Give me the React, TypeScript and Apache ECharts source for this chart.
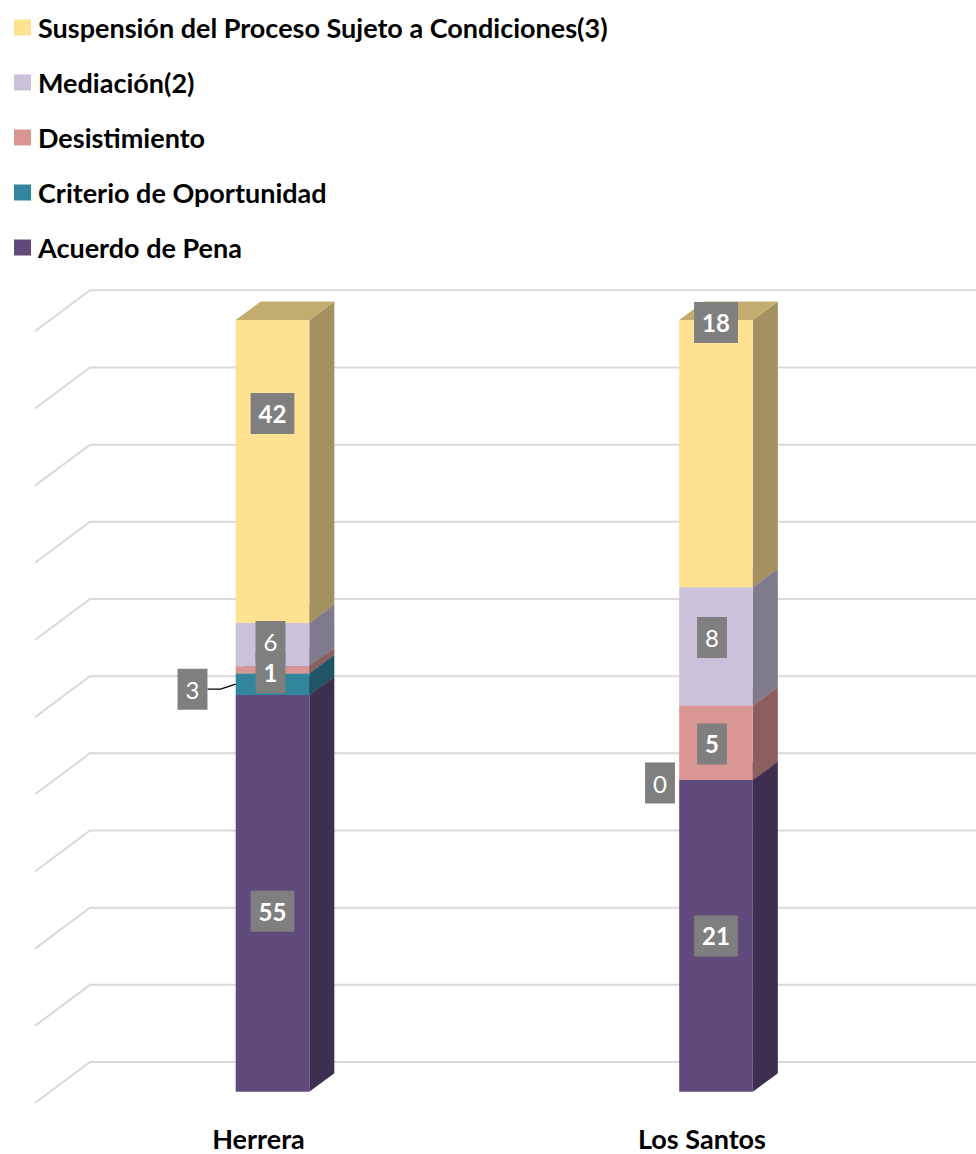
import React, { useEffect, useRef } from "react";
import * as echarts from "echarts";

const categories = ["Herrera", "Los Santos"];
const seriesNames = [
  "Acuerdo de Pena",
  "Criterio de Oportunidad",
  "Desistimiento",
  "Mediación(2)",
  "Suspensión del Proceso Sujeto a Condiciones(3)",
];
const acuerdoDePena = [55, 21];
const criterioDeOportunidad = [3, 0];
const desistimiento = [1, 5];
const mediacion = [6, 8];
const suspension = [42, 18];
const percentTicks = [0, 10, 20, 30, 40, 50, 60, 70, 80, 90, 100];

const seriesValues = [acuerdoDePena, criterioDeOportunidad, desistimiento, mediacion, suspension];

// styles
const FONT = "Lato";
const frontColors = ["#604A7B", "#31859C", "#D99694", "#CCC1DA", "#FFE291"];
const sideColors = ["#3D2F4F", "#1F5564", "#8C5F5E", "#807B8C", "#A39160"];
const topColors = ["#4D3B63", "#276B7D", "#AE7876", "#A49AAF", "#C3AD6E"];
const labelBold = [true, false, true, false, true];
// label nudges in px relative to the segment centre, [series][category]
const labelShift = [
  [[0, 18], [0, 0]],
  [[-80, 5], [-56, 3]],
  [[-2, 3], [-4, 1]],
  [[-2, -3], [-4, -9]],
  [[0, -58], [0, -131]],
];
const leaderLine = [
  [false, false],
  [true, false],
  [false, false],
  [false, false],
  [false, false],
];

const BAR_FRAC = 0.166;

function buildOption() {
  const totals = categories.map((_, c) => seriesValues.reduce((s, arr) => s + arr[c], 0));
  const cum = categories.map(() => 0);
  const segs: any[][] = seriesValues.map((arr, s) =>
    arr.map((v, c) => {
      const p0 = (cum[c] / totals[c]) * 100;
      cum[c] += v;
      const p1 = (cum[c] / totals[c]) * 100;
      return [c, p0, p1, v, s];
    })
  );

  const wallSeries = {
    type: "custom",
    name: "walls",
    silent: true,
    z: 0,
    coordinateSystem: "cartesian2d",
    encode: { x: 0, y: 1 },
    data: percentTicks.map((t) => [0, t]),
    renderItem: (params: any, api: any) => {
      const y = api.coord([0, api.value(1)])[1];
      const left = params.coordSys.x;
      return {
        type: "polyline",
        shape: {
          points: [
            [left - 15.75, y + 11.3],
            [left + 39.25, y - 29.7],
            [api.getWidth(), y - 29.7],
          ],
        },
        style: { stroke: "#D9D9D9", lineWidth: 2, fill: null },
      };
    },
  };

  const barSeries = seriesNames.map((name, s) => ({
    type: "custom",
    name,
    z: 2,
    coordinateSystem: "cartesian2d",
    encode: { x: 0, y: [1, 2] },
    itemStyle: { color: frontColors[s] },
    data: segs[s],
    renderItem: (params: any, api: any) => {
      const cat = api.value(0);
      const p0 = api.value(1);
      const p1 = api.value(2);
      if (p1 - p0 <= 0) return { type: "group", children: [] };
      const band = api.size([1, 0])[0];
      const w = band * BAR_FRAC;
      const dx = w * 0.34;
      const dy = dx * 0.74;
      const b = api.coord([cat, p0]);
      const t = api.coord([cat, p1]);
      const x0 = b[0] - w / 2;
      const x1 = b[0] + w / 2;
      const yb = b[1];
      const yt = t[1];
      return {
        type: "group",
        children: [
          {
            type: "polygon",
            shape: { points: [[x1, yb], [x1 + dx, yb - dy], [x1 + dx, yt - dy], [x1, yt]] },
            style: { fill: sideColors[s] },
          },
          {
            type: "polygon",
            shape: { points: [[x0, yt], [x1, yt], [x1 + dx, yt - dy], [x0 + dx, yt - dy]] },
            style: { fill: topColors[s] },
          },
          {
            type: "rect",
            shape: { x: x0, y: yt, width: w, height: yb - yt },
            style: { fill: frontColors[s] },
          },
        ],
      };
    },
  }));

  const labelSeries = {
    type: "custom",
    name: "labels",
    silent: true,
    z: 10,
    coordinateSystem: "cartesian2d",
    encode: { x: 0, y: [1, 2] },
    data: segs.flat(),
    renderItem: (params: any, api: any) => {
      const cat = api.value(0);
      const p0 = api.value(1);
      const p1 = api.value(2);
      const raw = api.value(3);
      const s = api.value(4);
      const mid = api.coord([cat, (p0 + p1) / 2]);
      const sh = labelShift[s][cat];
      const cx = mid[0] + sh[0];
      const cy = mid[1] + sh[1];
      const txt = String(raw);
      const children: any[] = [];
      if (leaderLine[s][cat]) {
        const w = api.size([1, 0])[0] * BAR_FRAC;
        const edgeX = mid[0] - w / 2;
        const boxRight = cx + txt.length * 7 + 8;
        children.push({
          type: "polyline",
          shape: { points: [[boxRight, cy], [boxRight + 13, cy], [edgeX, mid[1]]] },
          style: { stroke: "#000000", lineWidth: 1.3, fill: null },
        });
      }
      children.push({
        type: "text",
        x: cx,
        y: cy,
        style: {
          text: txt,
          fill: "#FFFFFF",
          fontFamily: FONT,
          fontSize: 24,
          lineHeight: 24,
          fontWeight: labelBold[s] ? "bold" : "normal",
          backgroundColor: "#7F7F7F",
          padding: [8.5, 8, 8.5, 8],
          align: "center",
          verticalAlign: "middle",
        },
      });
      return { type: "group", children };
    },
  };

  return {
    animation: false,
    backgroundColor: "#FFFFFF",
    legend: {
      orient: "vertical",
      left: 14,
      top: 14,
      padding: 0,
      itemGap: 28,
      itemWidth: 17,
      itemHeight: 16,
      icon: "rect",
      selectedMode: false,
      data: seriesNames.slice().reverse(),
      textStyle: {
        fontFamily: FONT,
        fontWeight: "bold",
        fontSize: 27,
        lineHeight: 27,
        color: "#000000",
        padding: [0, 0, 0, 2],
      },
    },
    grid: { left: 50.75, right: 38.25, top: 320, bottom: 62.3 },
    xAxis: {
      type: "category",
      data: categories,
      axisLine: { show: false },
      axisTick: { show: false },
      splitLine: { show: false },
      axisLabel: {
        margin: 33,
        fontFamily: FONT,
        fontWeight: "bold",
        fontSize: 27,
        lineHeight: 27,
        color: "#000000",
        padding: [0, 28, 0, 0],
      },
    },
    yAxis: {
      type: "value",
      min: 0,
      max: 100,
      interval: 10,
      show: false,
      splitLine: { show: false },
    },
    series: [wallSeries, ...barSeries, labelSeries],
  };
}

export default function App() {
  const ref = useRef<HTMLDivElement>(null);
  useEffect(() => {
    if (!ref.current) return;
    const chart = echarts.init(ref.current, null, { renderer: "svg" });
    chart.setOption(buildOption() as any);
    return () => chart.dispose();
  }, []);
  return (
    <div
      ref={ref}
      style={{ position: "absolute", left: 0, top: 0, width: 976, height: 1154, background: "#fff" }}
    />
  );
}
